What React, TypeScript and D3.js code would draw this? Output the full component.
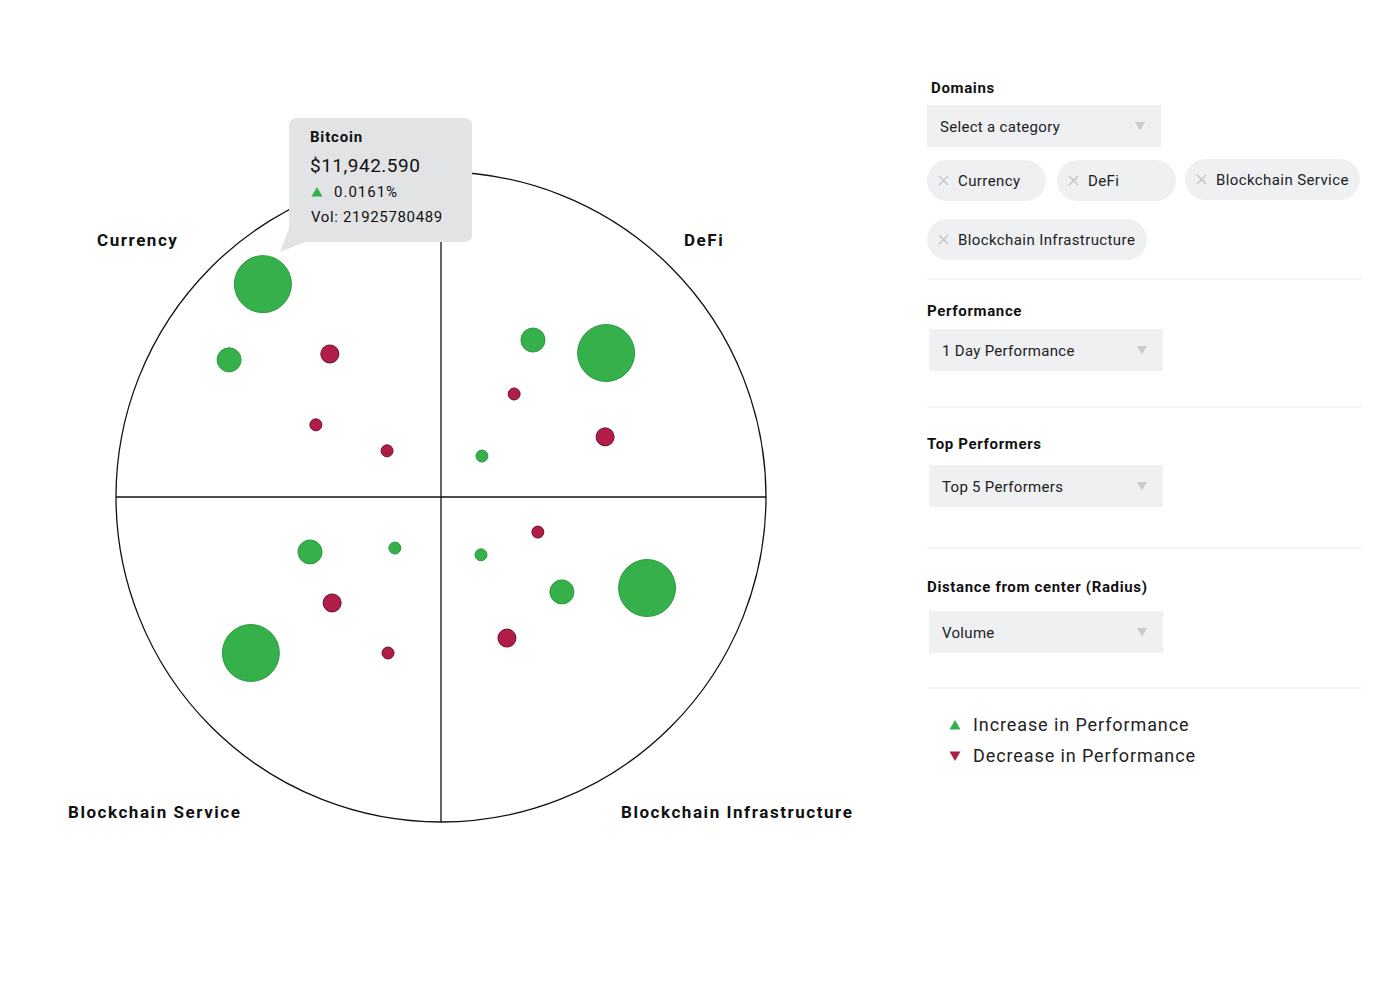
import React from "react";
import * as d3 from "d3";

// ---- data ----
const quadrants = ["Currency", "DeFi", "Blockchain Service", "Blockchain Infrastructure"];
// coin positions in normalized chart space (-1..1), volume in billions, performance sign
const coinDomain = [
  "Currency", "Currency", "Currency", "Currency", "Currency",
  "DeFi", "DeFi", "DeFi", "DeFi", "DeFi",
  "Blockchain Service", "Blockchain Service", "Blockchain Service", "Blockchain Service", "Blockchain Service",
  "Blockchain Infrastructure", "Blockchain Infrastructure", "Blockchain Infrastructure", "Blockchain Infrastructure", "Blockchain Infrastructure",
];
const coinX = [-0.548, -0.652, -0.342, -0.385, -0.166, 0.283, 0.508, 0.225, 0.505, 0.126, -0.403, -0.142, -0.335, -0.585, -0.163, 0.298, 0.123, 0.372, 0.634, 0.203];
const coinY = [0.655, 0.422, 0.44, 0.222, 0.142, 0.483, 0.443, 0.317, 0.185, 0.126, -0.169, -0.157, -0.326, -0.48, -0.48, -0.108, -0.178, -0.292, -0.28, -0.434];
const coinVolume = [21.93, 3.9, 2.2, 0.97, 0.97, 3.9, 21.9, 0.97, 2.2, 0.97, 3.9, 0.97, 2.2, 21.9, 0.97, 0.97, 0.97, 3.9, 21.9, 2.2];
const coinUp = [true, true, false, false, false, true, true, false, false, true, true, true, false, true, false, false, true, true, true, false];

const tooltipName = "Bitcoin";
const tooltipPrice = "$11,942.590";
const tooltipChange = "0.0161%";
const tooltipVol = "Vol: 21925780489";

const domainChips = ["Currency", "DeFi", "Blockchain Service", "Blockchain Infrastructure"];
const legendLabels = ["Increase in Performance", "Decrease in Performance"];

const GREEN = "#36b04b";
const GREEN_STROKE = "#2b9a3e";
const RED = "#b01e48";
const RED_STROKE = "#6e0f2e";
const FONT = "Roboto, 'DejaVu Sans', sans-serif";

export default function App() {
  const cx = 441, cy = 497, R = 325;
  const x = d3.scaleLinear().domain([-1, 1]).range([cx - R, cx + R]);
  const y = d3.scaleLinear().domain([-1, 1]).range([cy + R, cy - R]);
  const r = d3.scaleSqrt().domain([0, 21.93]).range([0, 28.5]);

  const labelPos = [
    { x: 97, y: 246 },
    { x: 684, y: 246 },
    { x: 68, y: 818 },
    { x: 621, y: 818 },
  ];

  const upTri = (px: number, py: number, s: number) =>
    `M${px - s},${py + s * 0.8} L${px + s},${py + s * 0.8} L${px},${py - s * 0.9} Z`;
  const downTri = (px: number, py: number, s: number) =>
    `M${px - s},${py - s * 0.8} L${px + s},${py - s * 0.8} L${px},${py + s * 0.9} Z`;

  const chips = [
    { x: 927, y: 160, w: 119 },
    { x: 1057, y: 160, w: 119 },
    { x: 1185, y: 159, w: 175 },
    { x: 927, y: 219, w: 220 },
  ];

  const selects = [
    { title: "Domains", tx: 931, ty: 88, bx: 927, by: 105, text: "Select a category" },
    { title: "Performance", tx: 927, ty: 311, bx: 929, by: 329, text: "1 Day Performance" },
    { title: "Top Performers", tx: 927, ty: 444, bx: 929, by: 465, text: "Top 5 Performers" },
    { title: "Distance from center (Radius)", tx: 927, ty: 587, bx: 929, by: 611, text: "Volume" },
  ];
  const seps = [279, 407, 548, 688];

  return (
    <svg width={1400} height={990} style={{ position: "absolute", left: 0, top: 0, background: "#fff" }} fontFamily={FONT}>
      {/* circle and axes */}
      <circle cx={cx} cy={cy} r={R} fill="none" stroke="#111" strokeWidth={1.3} />
      <line x1={x(-1)} x2={x(1)} y1={y(0)} y2={y(0)} stroke="#111" strokeWidth={1.3} />
      <line x1={x(0)} x2={x(0)} y1={y(1)} y2={y(-1)} stroke="#111" strokeWidth={1.3} />

      {quadrants.map((q, i) => (
        <text key={q} x={labelPos[i].x} y={labelPos[i].y} fontSize={17} fontWeight={700} letterSpacing={1.55} fill="#111">
          {q}
        </text>
      ))}

      {coinX.map((v, i) => (
        <circle key={i} cx={x(v)} cy={y(coinY[i])} r={r(coinVolume[i])}
          fill={coinUp[i] ? GREEN : RED} stroke={coinUp[i] ? GREEN_STROKE : RED_STROKE} strokeWidth={1}
          data-domain={coinDomain[i]} />
      ))}

      {/* tooltip */}
      <g>
        <path d="M297,118 H464 Q472,118 472,126 V234 Q472,242 464,242 H305 L280,252 L289,228 V126 Q289,118 297,118 Z" fill="#e2e3e5" />
        <text x={310} y={142} fontSize={15} fontWeight={700} letterSpacing={0.8} fill="#111">{tooltipName}</text>
        <text x={310} y={172} fontSize={19} letterSpacing={0.5} fill="#111">{tooltipPrice}</text>
        <path d={upTri(317, 192, 5.5)} fill={GREEN} />
        <text x={334} y={197} fontSize={15} letterSpacing={1} fill="#111">{tooltipChange}</text>
        <text x={311} y={222} fontSize={15} letterSpacing={0.65} fill="#111">{tooltipVol}</text>
      </g>

      {/* right panel */}
      {selects.map((s) => (
        <g key={s.title}>
          <text x={s.tx} y={s.ty} dy="0.35em" fontSize={15} fontWeight={700} letterSpacing={0.65} fill="#111">{s.title}</text>
          <rect x={s.bx} y={s.by} width={234} height={42} fill="#eef0f2" />
          <text x={s.bx + 13} y={s.by + 22} dy="0.35em" fontSize={15} letterSpacing={0.3} fill="#222">{s.text}</text>
          <path d={downTri(s.bx + 213, s.by + 21, 5)} fill="#c9cbce" />
        </g>
      ))}

      {domainChips.map((c, i) => (
        <g key={c}>
          <rect x={chips[i].x} y={chips[i].y} width={chips[i].w} height={41} rx={20.5} fill="#eef0f2" />
          <g stroke="#c2c4c7" strokeWidth={1.4}>
            <line x1={chips[i].x + 12} x2={chips[i].x + 21} y1={chips[i].y + 16} y2={chips[i].y + 25} />
            <line x1={chips[i].x + 21} x2={chips[i].x + 12} y1={chips[i].y + 16} y2={chips[i].y + 25} />
          </g>
          <text x={chips[i].x + 31} y={chips[i].y + 20.5} dy="0.35em" fontSize={15} letterSpacing={0.4} fill="#222">{c}</text>
        </g>
      ))}

      {seps.map((s) => (
        <line key={s} x1={927} x2={1362} y1={s} y2={s} stroke="#ebecee" strokeWidth={1} />
      ))}

      <path d={upTri(955, 725, 5.5)} fill={GREEN} />
      <text x={973} y={725} dy="0.35em" fontSize={18} letterSpacing={0.9} fill="#222">{legendLabels[0]}</text>
      <path d={downTri(955, 756, 5.5)} fill={RED} />
      <text x={973} y={756} dy="0.35em" fontSize={18} letterSpacing={0.9} fill="#222">{legendLabels[1]}</text>
    </svg>
  );
}
